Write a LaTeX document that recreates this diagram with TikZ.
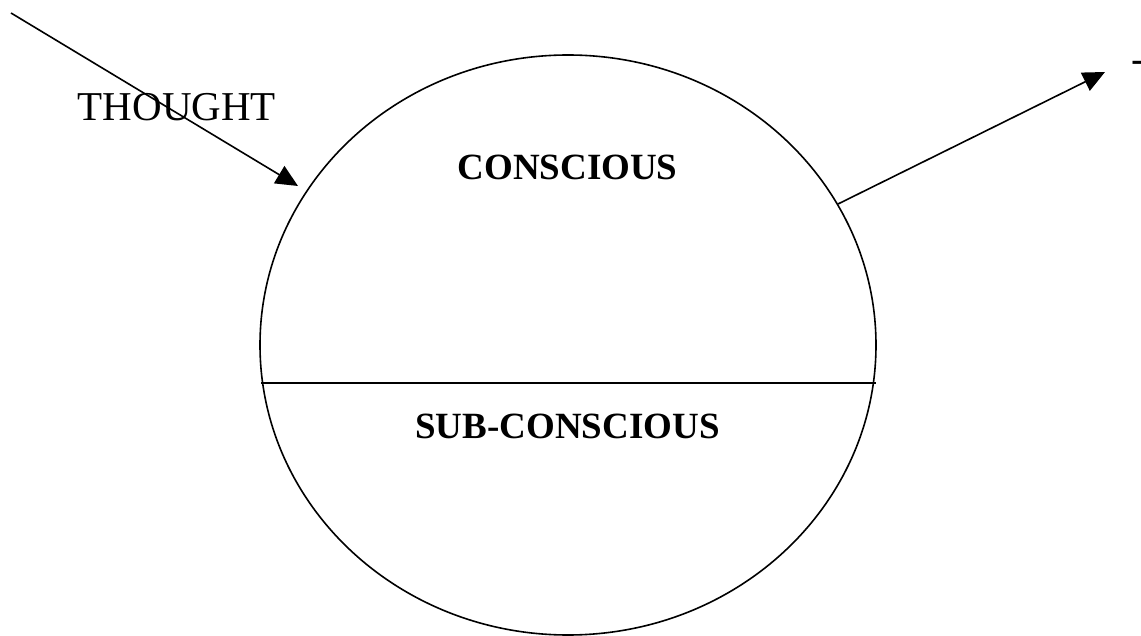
\documentclass[tikz,border=0pt]{standalone}
\usepackage{fontspec}
\setmainfont{Liberation Serif}
\usetikzlibrary{shapes.geometric,arrows.meta}
\begin{document}
\begin{tikzpicture}[x=1pt,y=-1pt,
  stroke/.style={line width=1.6pt,black},
  arrowline/.style={stroke,-{Triangle[length=22pt,width=20pt]}},
  plainlabel/.style={inner sep=0pt,anchor=base,font=\fontsize{41}{41}\selectfont},
  boldlabel/.style={inner sep=0pt,anchor=base,font=\fontsize{37}{37}\selectfont\bfseries}]
\useasboundingbox (0,0) rectangle (1141,636);
\node[ellipse,draw,stroke,inner sep=0pt,minimum width=616pt,minimum height=580pt] (mind) at (568,345) {};
\coordinate (divL) at (261,383);
\coordinate (divR) at (876,383);
\draw[stroke] (divL) -- (divR);
\node[plainlabel] (thought) at (177,121) {THOUGHT};
\node[boldlabel] (conscious) at (567.5,180) {CONSCIOUS};
\node[boldlabel] (subconscious) at (567.5,438) {SUB-CONSCIOUS};
\coordinate (inStart) at (11,13);
\coordinate (inTip) at (298,186);
\draw[arrowline] (inStart) -- (inTip);
\coordinate (outStart) at (838,204);
\coordinate (outTip) at (1105,72);
\draw[arrowline] (outStart) -- (outTip);
\node[plainlabel,anchor=base west] (cut) at (1131,73) {-};
\end{tikzpicture}
\end{document}
